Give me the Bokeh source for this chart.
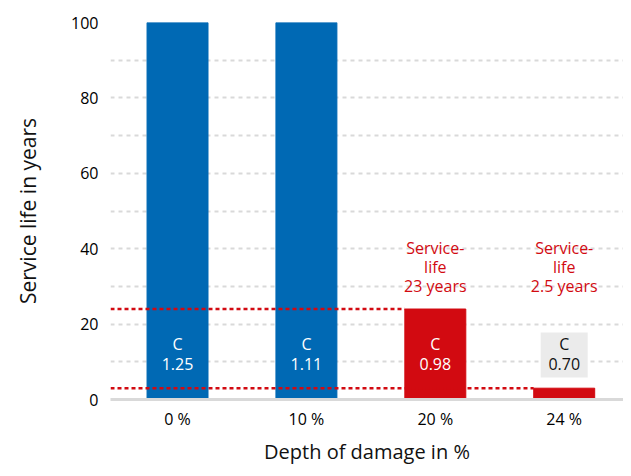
from bokeh.plotting import figure
from bokeh.models import Range1d, FixedTicker, ColumnDataSource
from bokeh.core.properties import value
from bokeh.embed import file_html
from bokeh.resources import INLINE

# ---- data ----
categories = ["0 %", "10 %", "20 %", "24 %"]
service_life = [100, 100, 24, 3]
c_values = ["1.25", "1.11", "0.98", "0.70"]
bar_colors = ["#0069b4", "#0069b4", "#d20a11", "#d20a11"]
annot_lines = [["Service-", "life", "23 years"], ["Service-", "life", "2.5 years"]]
annot_bars = [2, 3]
y_ticks = [0, 20, 40, 60, 80, 100]
grid_ticks = [10, 20, 30, 40, 50, 60, 70, 80, 90, 100]

FONT = "Open Sans"
BLUE = "#0069b4"
RED = "#d20a11"
GRID = "#d9d9d9"
BW = 0.473

xs = list(range(len(categories)))

p = figure(frame_width=513, frame_height=377, output_backend="svg",
           toolbar_location=None,
           x_range=Range1d(-0.52, 3.46), y_range=Range1d(0, 100),
           min_border_left=110, min_border_right=0, min_border_top=22,
           min_border_bottom=55)
p.outline_line_color = None
p.background_fill_color = "white"
p.border_fill_color = "white"

# grid
p.xgrid.visible = False
p.ygrid.ticker = FixedTicker(ticks=grid_ticks)
p.ygrid.grid_line_color = GRID
p.ygrid.grid_line_width = 2
p.ygrid.grid_line_dash = "4 4"

# axes
p.xaxis.ticker = FixedTicker(ticks=xs)
p.xaxis.major_label_overrides = {i: c for i, c in zip(xs, categories)}
p.xaxis.axis_line_color = GRID
p.xaxis.axis_line_width = 3
p.xaxis.major_tick_line_color = None
p.xaxis.minor_tick_line_color = None
p.xaxis.major_tick_in = 0
p.xaxis.major_tick_out = 0
p.xaxis.major_label_text_font = FONT
p.xaxis.major_label_text_font_size = "16px"
p.xaxis.major_label_text_color = "#000000"
p.xaxis.major_label_standoff = 8
p.xaxis.axis_label = "Depth of damage in %"
p.xaxis.axis_label_text_font = FONT
p.xaxis.axis_label_text_font_style = "normal"
p.xaxis.axis_label_text_font_size = "20px"
p.xaxis.axis_label_text_color = "#111111"
p.xaxis.axis_label_standoff = 5

p.yaxis.ticker = FixedTicker(ticks=y_ticks)
p.yaxis.axis_line_color = None
p.yaxis.major_tick_line_color = None
p.yaxis.minor_tick_line_color = None
p.yaxis.major_tick_in = 0
p.yaxis.major_tick_out = 0
p.yaxis.major_label_text_font = FONT
p.yaxis.major_label_text_font_size = "16px"
p.yaxis.major_label_text_color = "#000000"
p.yaxis.major_label_standoff = 12
p.yaxis.axis_label = "Service life in years"
p.yaxis.axis_label_text_font = FONT
p.yaxis.axis_label_text_font_style = "normal"
p.yaxis.axis_label_text_font_size = "21px"
p.yaxis.axis_label_text_color = "#111111"
p.yaxis.axis_label_standoff = 26

# bars
src = ColumnDataSource(dict(x=xs, top=service_life, color=bar_colors))
p.vbar(x="x", top="top", width=BW, bottom=0, color="color", source=src)

# grey label box for the small bar
last = len(xs) - 1
p.rect(x=[xs[last]], y=[11.8], width=47, height=45, width_units="screen",
       height_units="screen", fill_color="#ebebeb", line_color=None)

# labels inside bars
lab_col = ["white"] * last + ["#111111"]
lsrc = ColumnDataSource(dict(x=xs, c=["C"] * len(xs), v=c_values, col=lab_col))
p.text(x="x", y=11.8, text="c", source=lsrc, text_color="col",
       text_font=value(FONT), text_font_size="16px", text_align="center",
       text_baseline="middle", y_offset=-11)
p.text(x="x", y=11.8, text="v", source=lsrc, text_color="col",
       text_font=value(FONT), text_font_size="16px", text_align="center",
       text_baseline="middle", y_offset=9)

# red dotted reference lines
for bi in annot_bars:
    p.segment(x0=[-0.52], y0=[service_life[bi]], x1=[xs[bi] - BW / 2],
              y1=[service_life[bi]], line_color=RED, line_width=2.5,
              line_dash="4 3")

# red annotations above red bars
for bi, lines in zip(annot_bars, annot_lines):
    for k, t in enumerate(lines):
        p.text(x=[xs[bi]], y=[40.3], text=[t], text_color=RED,
               text_font=value(FONT), text_font_size="16px",
               text_align="center", text_baseline="middle",
               y_offset=19 * k)

open("out.html", "w").write(file_html(p, INLINE))
